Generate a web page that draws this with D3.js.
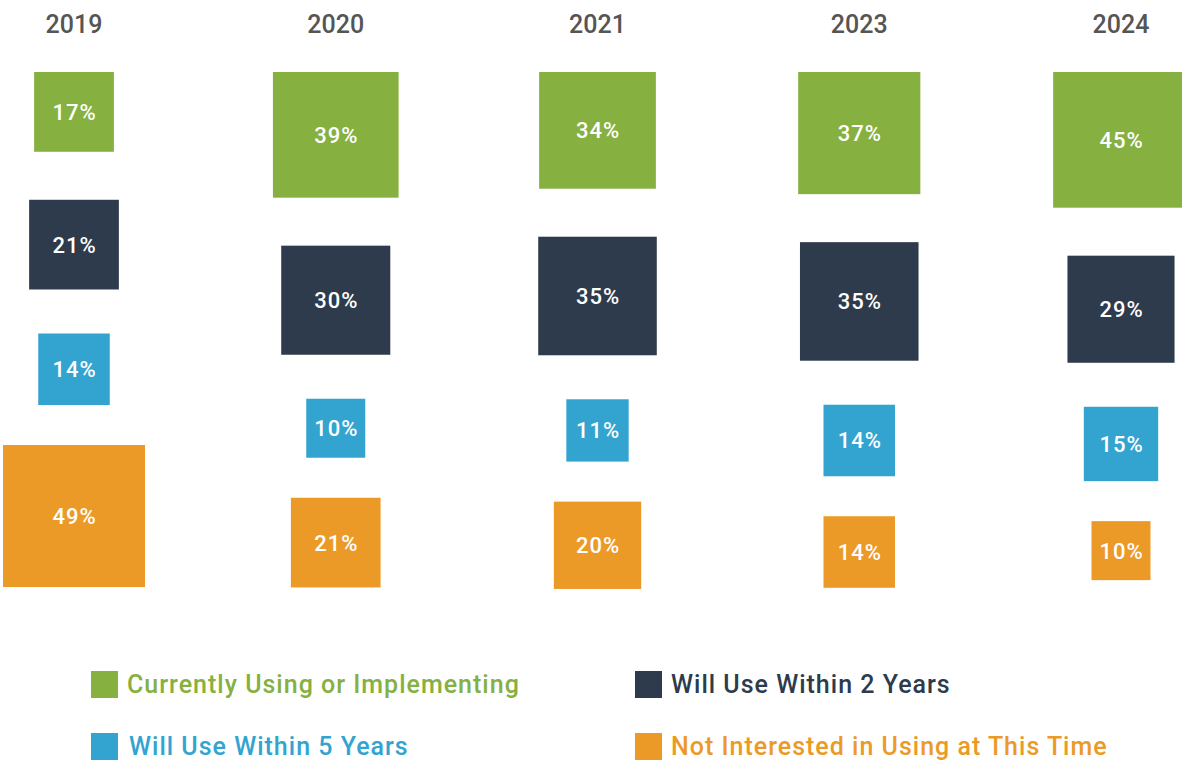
<!DOCTYPE html>
<html>
<head>
<meta charset="utf-8">
<script src="https://cdn.jsdelivr.net/npm/d3@7"></script>
<style>
  html, body { margin: 0; padding: 0; background: #fff; }
  svg { display: block; font-family: Roboto, "Noto Sans", sans-serif; }
</style>
</head>
<body>
<svg id="chart" width="1182" height="760"></svg>
<script>
// ---- data ----
const years = ["2019", "2020", "2021", "2023", "2024"];
const seriesNames = [
  "Currently Using or Implementing",
  "Will Use Within 2 Years",
  "Will Use Within 5 Years",
  "Not Interested in Using at This Time"
];
const currentlyUsing = [17, 39, 34, 37, 45];
const within2Years   = [21, 30, 35, 35, 29];
const within5Years   = [14, 10, 11, 14, 15];
const notInterested  = [49, 21, 20, 14, 10];
const colors = ["#86b03f", "#2d3b4c", "#33a4d0", "#ec9a27"];

const seriesValues = [currentlyUsing, within2Years, within5Years, notInterested];

// ---- layout ----
const svg = d3.select("#chart");

const x = d3.scalePoint().domain(years).range([74, 1121]);
const side = d3.scaleSqrt().domain([10, 49]).range([59, 142]);

const topY = 72;
const gaps = [48, 44, 40];

// year labels
svg.append("g").selectAll("text")
  .data(years)
  .join("text")
  .attr("x", d => x(d))
  .attr("y", 33)
  .attr("text-anchor", "middle")
  .attr("font-size", 25)
  .attr("font-weight", 500)
  .attr("fill", "#555555")
  .text(d => d);

// build cells
const cells = [];
years.forEach((yr, i) => {
  let y = topY;
  seriesValues.forEach((vals, s) => {
    const v = vals[i];
    const sz = side(v);
    cells.push({ year: yr, s, v, sz, y0: y });
    y += sz + (gaps[s] || 0);
  });
});

const g = svg.append("g");
g.selectAll("rect")
  .data(cells)
  .join("rect")
  .attr("x", d => x(d.year) - d.sz / 2)
  .attr("y", d => d.y0)
  .attr("width", d => d.sz)
  .attr("height", d => d.sz)
  .attr("fill", d => colors[d.s]);

g.selectAll("text")
  .data(cells)
  .join("text")
  .attr("x", d => x(d.year) + 0.5)
  .attr("y", d => d.y0 + d.sz / 2)
  .attr("dy", "0.36em")
  .attr("text-anchor", "middle")
  .attr("font-size", 22)
  .attr("font-weight", 500)
  .attr("letter-spacing", "1px")
  .attr("fill", "#ffffff")
  .text(d => d.v + "%");

// legend
const legendPos = [
  { x: 91, y: 671 },
  { x: 635, y: 671 },
  { x: 91, y: 733 },
  { x: 635, y: 733 }
];
const leg = svg.append("g").selectAll("g")
  .data(seriesNames)
  .join("g")
  .attr("transform", (d, i) => `translate(${legendPos[i].x},${legendPos[i].y})`);
leg.append("rect")
  .attr("width", 27).attr("height", 27)
  .attr("fill", (d, i) => colors[i]);
leg.append("text")
  .attr("x", (d, i) => i === 2 ? 38 : 36)
  .attr("y", 22)
  .attr("font-size", 25)
  .attr("font-weight", 500)
  .attr("letter-spacing", "1px")
  .attr("fill", (d, i) => colors[i])
  .text(d => d);
</script>
</body>
</html>
